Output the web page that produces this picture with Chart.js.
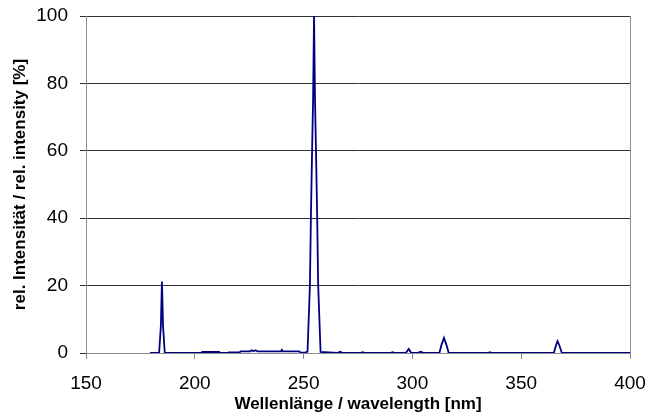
<!DOCTYPE html>
<html>
<head>
<meta charset="utf-8">
<title>Spektrum</title>
<script src="https://cdn.jsdelivr.net/npm/chart.js@4.4.1/dist/chart.umd.min.js"></script>
<style>
  html, body { margin: 0; padding: 0; background: #fff; }
  #wrap { width: 647px; height: 418px; }
</style>
</head>
<body>
<div id="wrap"><canvas id="spectrum" width="647" height="418"></canvas></div>
<script>
// data (wavelength in nm, rel. intensity in %)
const wavelength = [
  179.4, 183.6, 184.4, 184.9, 185.4, 186.2,
  203.0, 203.4, 211.2, 211.6, 215.3, 215.7, 220.6, 221.2,
  225.4, 226.2, 227.0, 227.8, 228.8, 239.6, 240.0, 240.4, 248.0, 248.6,
  250.8, 251.8, 252.9, 253.35, 253.9, 254.35, 254.8, 255.25, 255.7, 256.25, 256.7, 257.8,
  265.5, 266.8, 268.0, 275.9, 277.1, 278.4, 289.7, 290.9, 292.0,
  297.0, 298.3, 299.5, 302.2, 303.8, 305.3,
  312.4, 313.4, 314.5, 315.6, 316.7, 334.7, 335.6, 336.6,
  365.0, 366.0, 366.7, 367.5, 368.7, 400.0
];
const intensity = [
  0, 0, 8, 21.2, 8, 0,
  0, 0.3, 0.3, 0, 0, 0.2, 0.2, 0.5,
  0.5, 0.8, 0.5, 0.8, 0.5, 0.5, 0.9, 0.5, 0.5, 0.1,
  0.1, 0.4, 20, 40, 60, 75, 100, 75, 60, 40, 20, 0.3,
  0, 0.35, 0, 0, 0.25, 0, 0, 0.25, 0,
  0, 1.2, 0, 0, 0.4, 0,
  0, 2.5, 4.5, 2.5, 0, 0, 0.25, 0,
  0, 2.3, 3.5, 2.3, 0, 0
];
const xTicks = [150, 200, 250, 300, 350, 400];
const yTicks = [0, 20, 40, 60, 80, 100];

const points = wavelength.map((w, i) => ({ x: w, y: intensity[i] }));
const fontFamily = '"Liberation Sans", Arial, sans-serif';
const axisGray = '#8c8c8c';
const gridDark = '#333333';

const ctx = document.getElementById('spectrum').getContext('2d');
const chart = new Chart(ctx, {
  type: 'line',
  data: {
    datasets: [{
      data: points,
      borderColor: '#000080',
      borderWidth: 1.8,
      pointRadius: 0,
      tension: 0,
      fill: false
    }]
  },
  options: {
    responsive: false,
    animation: false,
    layout: { padding: { top: 16, right: 17, left: 0, bottom: 0 } },
    plugins: {
      legend: { display: false },
      tooltip: { enabled: false }
    },
    scales: {
      x: {
        type: 'linear',
        min: xTicks[0],
        max: xTicks[xTicks.length - 1],
        afterBuildTicks: (scale) => { scale.ticks = xTicks.map(v => ({ value: v })); },
        afterFit: (scale) => {
          scale.height = 65;
          scale.paddingLeft = 0;
          scale.paddingRight = 0;
        },
        ticks: {
          color: '#000',
          padding: 13,
          maxRotation: 0,
          font: { family: fontFamily, size: 19 }
        },
        grid: {
          drawOnChartArea: true,
          tickLength: 6,
          color: (c) => (c.tick && c.tick.value === 400 ? axisGray : 'rgba(0,0,0,0)'),
          tickColor: axisGray
        },
        border: { color: axisGray, width: 1 },
        title: {
          display: true,
          text: 'Wellenlänge / wavelength [nm]',
          color: '#000',
          font: { family: fontFamily, size: 17, weight: 'bold' },
          padding: { top: 0, bottom: 3 }
        }
      },
      y: {
        min: yTicks[0],
        max: yTicks[yTicks.length - 1],
        afterBuildTicks: (scale) => { scale.ticks = yTicks.map(v => ({ value: v })); },
        afterFit: (scale) => {
          scale.width = 86;
          scale.paddingTop = 0;
          scale.paddingBottom = 0;
        },
        ticks: {
          color: '#000',
          padding: 12,
          font: { family: fontFamily, size: 19 }
        },
        grid: {
          tickLength: 6,
          color: (c) => (c.tick && c.tick.value === 0 ? axisGray : gridDark),
          tickColor: gridDark
        },
        border: { color: axisGray, width: 1 },
        title: {
          display: true,
          text: 'rel. Intensität / rel. intensity [%]',
          color: '#000',
          font: { family: fontFamily, size: 17, weight: 'bold' },
          padding: { top: 10, bottom: 0 }
        }
      }
    }
  }
});
</script>
</body>
</html>
